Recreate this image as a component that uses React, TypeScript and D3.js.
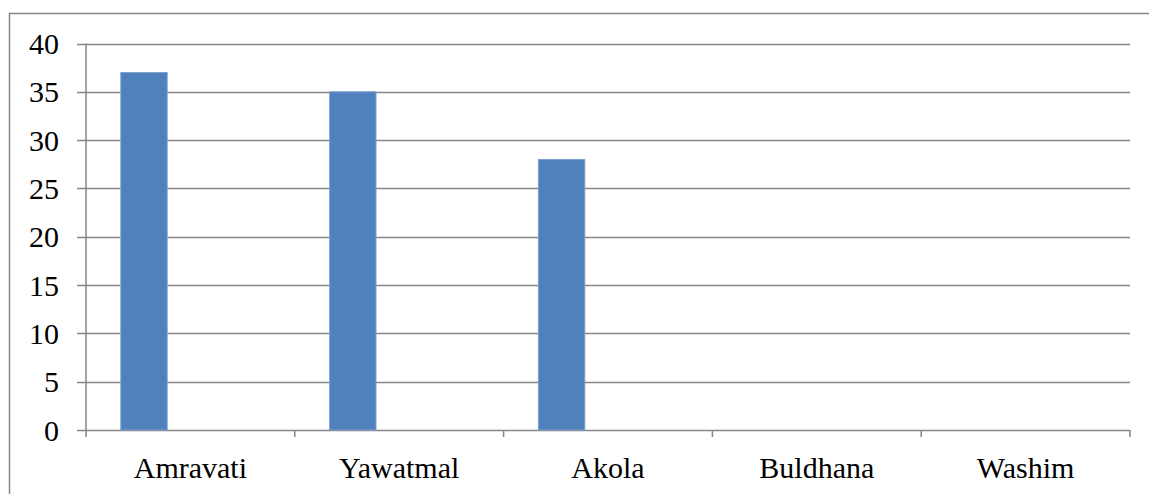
import React from "react";
import * as d3 from "d3";

const categories = ["Amravati", "Yawatmal", "Akola", "Buldhana", "Washim"];
const seriesNames = ["Series1", "Series2", "Series3"];
const series1 = [37, 35, 28, null, null];
const series2: (number | null)[] = [null, null, null, null, null];
const series3: (number | null)[] = [null, null, null, null, null];
const yTicks = [0, 5, 10, 15, 20, 25, 30, 35, 40];

const W = 1149;
const H = 494;
const left = 86;
const right = 1130;
const top = 43.5;
const bottom = 430;

export default function App() {
  const x = d3.scaleBand<string>().domain(categories).range([left, right]).paddingInner(0).paddingOuter(0);
  const bw = x.bandwidth();
  const barW = bw / 4.5;
  const xs = d3.scaleBand<string>().domain(seriesNames).range([0.75 * barW, bw - 0.75 * barW]);
  const y = d3.scaleLinear().domain([0, 40]).range([bottom, top]);
  const allSeries = [series1, series2, series3];
  const textStyle = { fontFamily: "Liberation Serif, DejaVu Serif, Times New Roman, serif", fontSize: "30px" };
  const grid = "#868686";

  return (
    <svg width={W} height={H} style={{ position: "fixed", left: 0, top: 0, display: "block", background: "#fff" }}>
      <rect x={9.5} y={13.5} width={W + 20} height={H + 20} fill="#fff" stroke={grid} strokeWidth={1.5} />
      {yTicks.map((t) => (
        <g key={t}>
          <line x1={77} x2={right} y1={Math.round(y(t)) + 0.5} y2={Math.round(y(t)) + 0.5} stroke={grid} strokeWidth={1.5} />
          <text x={59} y={y(t)} dy="0.35em" textAnchor="end" style={textStyle} fill="#000">
            {t}
          </text>
        </g>
      ))}
      <line x1={left} x2={left} y1={top} y2={bottom} stroke={grid} strokeWidth={1.5} />
      {d3.range(categories.length + 1).map((i) => {
        const xx = i < categories.length ? x(categories[i])! : right;
        return <line key={i} x1={xx} x2={xx} y1={bottom} y2={437} stroke={grid} strokeWidth={1.5} />;
      })}
      {allSeries.map((s, si) =>
        s.map((v, ci) =>
          v == null ? null : (
            <rect
              key={`${si}-${ci}`}
              x={x(categories[ci])! + xs(seriesNames[si])!}
              y={y(v)}
              width={xs.bandwidth()}
              height={y(0) - y(v)}
              fill="#4F81BD"
              stroke="#7FA1CE"
              strokeWidth={1}
            />
          )
        )
      )}
      {categories.map((c) => (
        <text key={c} x={x(c)! + bw / 2} y={478} textAnchor="middle" style={textStyle} fill="#000">
          {c}
        </text>
      ))}
    </svg>
  );
}
